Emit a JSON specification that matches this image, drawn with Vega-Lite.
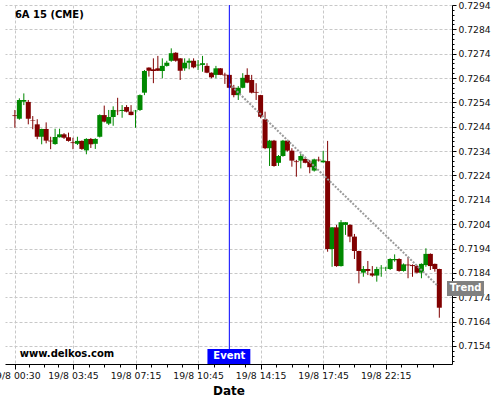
{
  "$schema": "https://vega.github.io/schema/vega-lite/v6.json",
  "width": 447,
  "height": 359,
  "autosize": {"type": "none"},
  "padding": {"left": 5, "top": 5, "right": 48, "bottom": 36},
  "background": "white",
  "config": {"view": {"stroke": null}, "font": "DejaVu Sans"},
  "datasets": {
    "candles": [
      {"i":1,"o":0.72487,"h":0.72509,"l":0.72436,"c":0.72484},
      {"i":2,"o":0.72473,"h":0.72557,"l":0.72469,"c":0.72550},
      {"i":3,"o":0.72543,"h":0.72577,"l":0.72529,"c":0.72550},
      {"i":4,"o":0.72542,"h":0.72550,"l":0.72450,"c":0.72473},
      {"i":5,"o":0.72466,"h":0.72484,"l":0.72430,"c":0.72464},
      {"i":6,"o":0.72450,"h":0.72471,"l":0.72389,"c":0.72399},
      {"i":7,"o":0.72399,"h":0.72432,"l":0.72368,"c":0.72431},
      {"i":8,"o":0.72431,"h":0.72458,"l":0.72372,"c":0.72383},
      {"i":9,"o":0.72383,"h":0.72399,"l":0.72348,"c":0.72380},
      {"i":10,"o":0.72369,"h":0.72432,"l":0.72366,"c":0.72398},
      {"i":11,"o":0.72397,"h":0.72432,"l":0.72396,"c":0.72409},
      {"i":12,"o":0.72409,"h":0.72414,"l":0.72390,"c":0.72395},
      {"i":13,"o":0.72397,"h":0.72416,"l":0.72379,"c":0.72382},
      {"i":14,"o":0.72376,"h":0.72395,"l":0.72348,"c":0.72373},
      {"i":15,"o":0.72370,"h":0.72399,"l":0.72365,"c":0.72382},
      {"i":16,"o":0.72382,"h":0.72384,"l":0.72345,"c":0.72349},
      {"i":17,"o":0.72343,"h":0.72393,"l":0.72327,"c":0.72390},
      {"i":18,"o":0.72390,"h":0.72394,"l":0.72353,"c":0.72368},
      {"i":19,"o":0.72370,"h":0.72393,"l":0.72349,"c":0.72390},
      {"i":20,"o":0.72399,"h":0.72491,"l":0.72396,"c":0.72488},
      {"i":21,"o":0.72488,"h":0.72527,"l":0.72458,"c":0.72461},
      {"i":22,"o":0.72453,"h":0.72509,"l":0.72447,"c":0.72480},
      {"i":23,"o":0.72480,"h":0.72524,"l":0.72444,"c":0.72509},
      {"i":24,"o":0.72506,"h":0.72559,"l":0.72488,"c":0.72504},
      {"i":25,"o":0.72505,"h":0.72529,"l":0.72477,"c":0.72509},
      {"i":26,"o":0.72521,"h":0.72529,"l":0.72499,"c":0.72502},
      {"i":27,"o":0.72502,"h":0.72529,"l":0.72487,"c":0.72488},
      {"i":28,"o":0.72504,"h":0.72509,"l":0.72436,"c":0.72506},
      {"i":29,"o":0.72509,"h":0.72573,"l":0.72505,"c":0.72570},
      {"i":30,"o":0.72580,"h":0.72673,"l":0.72570,"c":0.72669},
      {"i":31,"o":0.72683,"h":0.72684,"l":0.72646,"c":0.72670},
      {"i":32,"o":0.72676,"h":0.72721,"l":0.72619,"c":0.72669},
      {"i":33,"o":0.72680,"h":0.72731,"l":0.72669,"c":0.72670},
      {"i":34,"o":0.72669,"h":0.72721,"l":0.72639,"c":0.72690},
      {"i":35,"o":0.72690,"h":0.72711,"l":0.72687,"c":0.72703},
      {"i":36,"o":0.72711,"h":0.72762,"l":0.72707,"c":0.72742},
      {"i":37,"o":0.72744,"h":0.72746,"l":0.72707,"c":0.72711},
      {"i":38,"o":0.72721,"h":0.72722,"l":0.72632,"c":0.72670},
      {"i":39,"o":0.72680,"h":0.72721,"l":0.72670,"c":0.72703},
      {"i":40,"o":0.72703,"h":0.72721,"l":0.72676,"c":0.72711},
      {"i":41,"o":0.72711,"h":0.72721,"l":0.72680,"c":0.72684},
      {"i":42,"o":0.72692,"h":0.72714,"l":0.72673,"c":0.72695},
      {"i":43,"o":0.72694,"h":0.72731,"l":0.72666,"c":0.72701},
      {"i":44,"o":0.72690,"h":0.72701,"l":0.72660,"c":0.72662},
      {"i":45,"o":0.72662,"h":0.72663,"l":0.72639,"c":0.72643},
      {"i":46,"o":0.72653,"h":0.72690,"l":0.72639,"c":0.72680},
      {"i":47,"o":0.72680,"h":0.72681,"l":0.72652,"c":0.72653},
      {"i":48,"o":0.72654,"h":0.72662,"l":0.72616,"c":0.72651},
      {"i":49,"o":0.72653,"h":0.72654,"l":0.72598,"c":0.72600},
      {"i":50,"o":0.72600,"h":0.72612,"l":0.72561,"c":0.72570},
      {"i":51,"o":0.72570,"h":0.72607,"l":0.72550,"c":0.72600},
      {"i":52,"o":0.72600,"h":0.72660,"l":0.72598,"c":0.72641},
      {"i":53,"o":0.72653,"h":0.72680,"l":0.72619,"c":0.72621},
      {"i":54,"o":0.72632,"h":0.72653,"l":0.72577,"c":0.72580},
      {"i":55,"o":0.72583,"h":0.72619,"l":0.72550,"c":0.72580},
      {"i":56,"o":0.72570,"h":0.72571,"l":0.72475,"c":0.72481},
      {"i":57,"o":0.72471,"h":0.72502,"l":0.72348,"c":0.72352},
      {"i":58,"o":0.72352,"h":0.72386,"l":0.72279,"c":0.72383},
      {"i":59,"o":0.72383,"h":0.72386,"l":0.72276,"c":0.72279},
      {"i":60,"o":0.72292,"h":0.72324,"l":0.72279,"c":0.72320},
      {"i":61,"o":0.72320,"h":0.72386,"l":0.72317,"c":0.72383},
      {"i":62,"o":0.72383,"h":0.72386,"l":0.72338,"c":0.72342},
      {"i":63,"o":0.72342,"h":0.72352,"l":0.72276,"c":0.72301},
      {"i":64,"o":0.72298,"h":0.72304,"l":0.72235,"c":0.72295},
      {"i":65,"o":0.72301,"h":0.72328,"l":0.72269,"c":0.72320},
      {"i":66,"o":0.72308,"h":0.72317,"l":0.72290,"c":0.72292},
      {"i":67,"o":0.72297,"h":0.72304,"l":0.72249,"c":0.72274},
      {"i":68,"o":0.72260,"h":0.72309,"l":0.72256,"c":0.72306},
      {"i":69,"o":0.72305,"h":0.72317,"l":0.72297,"c":0.72302},
      {"i":70,"o":0.72294,"h":0.72341,"l":0.72293,"c":0.72301},
      {"i":71,"o":0.72299,"h":0.72382,"l":0.71927,"c":0.71938},
      {"i":72,"o":0.71938,"h":0.72028,"l":0.71865,"c":0.72027},
      {"i":73,"o":0.72027,"h":0.72037,"l":0.71865,"c":0.71868},
      {"i":74,"o":0.71868,"h":0.72057,"l":0.71866,"c":0.72048},
      {"i":75,"o":0.72037,"h":0.72049,"l":0.71996,"c":0.72048},
      {"i":76,"o":0.72037,"h":0.72040,"l":0.71966,"c":0.71989},
      {"i":77,"o":0.71989,"h":0.72000,"l":0.71897,"c":0.71930},
      {"i":78,"o":0.71930,"h":0.71931,"l":0.71797,"c":0.71848},
      {"i":79,"o":0.71841,"h":0.71868,"l":0.71824,"c":0.71856},
      {"i":80,"o":0.71856,"h":0.71889,"l":0.71831,"c":0.71848},
      {"i":81,"o":0.71838,"h":0.71868,"l":0.71824,"c":0.71829},
      {"i":82,"o":0.71829,"h":0.71865,"l":0.71804,"c":0.71856},
      {"i":83,"o":0.71859,"h":0.71872,"l":0.71824,"c":0.71861},
      {"i":84,"o":0.71859,"h":0.71865,"l":0.71848,"c":0.71861},
      {"i":85,"o":0.71856,"h":0.71900,"l":0.71852,"c":0.71897},
      {"i":86,"o":0.71892,"h":0.71916,"l":0.71886,"c":0.71897},
      {"i":87,"o":0.71897,"h":0.71900,"l":0.71845,"c":0.71848},
      {"i":88,"o":0.71848,"h":0.71879,"l":0.71845,"c":0.71875},
      {"i":89,"o":0.71874,"h":0.71906,"l":0.71818,"c":0.71871},
      {"i":90,"o":0.71872,"h":0.71875,"l":0.71824,"c":0.71868},
      {"i":91,"o":0.71868,"h":0.71872,"l":0.71838,"c":0.71841},
      {"i":92,"o":0.71841,"h":0.71879,"l":0.71818,"c":0.71877},
      {"i":93,"o":0.71872,"h":0.71941,"l":0.71865,"c":0.71918},
      {"i":94,"o":0.71918,"h":0.71920,"l":0.71852,"c":0.71868},
      {"i":95,"o":0.71877,"h":0.71878,"l":0.71845,"c":0.71856},
      {"i":96,"o":0.71856,"h":0.71857,"l":0.71656,"c":0.71697}
    ],
    "trend": [
      {"i": 49, "v": 0.72616},
      {"i": 95.7, "v": 0.71786}
    ],
    "one": [{}]
  },
  "layer": [
    {
      "data": {"name": "candles"},
      "mark": {"type": "rule", "strokeWidth": 1},
      "encoding": {
        "x": {
          "field": "i", "type": "quantitative",
          "scale": {"domain": [-0.094, 97.72], "nice": false, "zero": false},
          "axis": {
            "title": "Date",
            "titleFont": "DejaVu Sans", "titleFontSize": 12, "titleFontWeight": "bold", "titleColor": "#000000", "titlePadding": 5,
            "values": [1, 4.25, 7.5, 10.75, 14, 17.5, 21, 24.5, 28, 31.5, 35, 38.5, 42, 45.5, 49, 52.5, 56, 59.5, 63, 66.5, 70, 73.5, 77, 80.5, 84, 87.5, 91, 94.5],
            "tickCount": 1000,
            "labelExpr": "datum.value==1?'19/8 00:30':datum.value==14?'19/8 03:45':datum.value==28?'19/8 07:15':datum.value==42?'19/8 10:45':datum.value==56?'19/8 14:15':datum.value==70?'19/8 17:45':datum.value==84?'19/8 22:15':''",
            "labelFlush": false, "labelOverlap": false, "labelBound": false,
            "labelFont": "DejaVu Sans", "labelFontSize": 9.3, "labelColor": "#111111", "labelPadding": 2,
            "domainColor": "#000000", "domainWidth": 1,
            "tickColor": "#000000",
            "tickSize": {"condition": {"test": "indexof([1,14,28,42,56,70,84], datum.value) >= 0", "value": 5}, "value": 3},
            "grid": true, "gridColor": "#c8c8c8", "gridDash": [3, 2],
            "gridOpacity": {"condition": {"test": "indexof([1,14,28,42,56,70,84], datum.value) >= 0", "value": 1}, "value": 0}
          }
        },
        "y": {
          "field": "l", "type": "quantitative",
          "scale": {"domain": [0.714659, 0.7294], "nice": false, "zero": false},
          "axis": {
            "orient": "right", "title": null,
            "values": [0.7148,0.715,0.7152,0.7154,0.7156,0.7158,0.716,0.7162,0.7164,0.7166,0.7168,0.717,0.7172,0.7174,0.7176,0.7178,0.718,0.7182,0.7184,0.7186,0.7188,0.719,0.7192,0.7194,0.7196,0.7198,0.72,0.7202,0.7204,0.7206,0.7208,0.721,0.7212,0.7214,0.7216,0.7218,0.722,0.7222,0.7224,0.7226,0.7228,0.723,0.7232,0.7234,0.7236,0.7238,0.724,0.7242,0.7244,0.7246,0.7248,0.725,0.7252,0.7254,0.7256,0.7258,0.726,0.7262,0.7264,0.7266,0.7268,0.727,0.7272,0.7274,0.7276,0.7278,0.728,0.7282,0.7284,0.7286,0.7288,0.729,0.7292,0.7294],
            "tickCount": 1000,
            "labelExpr": "abs(datum.value*10000 - 4 - round((datum.value*10000 - 4)/10)*10) < 0.01 ? format(datum.value, '.4f') : ''",
            "labelOverlap": false, "labelFlush": false, "labelBound": false,
            "labelFont": "DejaVu Sans", "labelFontSize": 9.2, "labelColor": "#111111", "labelPadding": 2,
            "domainColor": "#000000", "domainWidth": 1,
            "tickColor": "#000000",
            "tickSize": {"condition": {"test": "abs(datum.value*10000 - 4 - round((datum.value*10000 - 4)/10)*10) < 0.01", "value": 4}, "value": 2},
            "grid": true, "gridColor": "#c8c8c8", "gridDash": [3, 2],
            "gridOpacity": {"condition": {"test": "abs(datum.value*10000 - 4 - round((datum.value*10000 - 4)/10)*10) < 0.01", "value": 1}, "value": 0}
          }
        },
        "y2": {"field": "h"},
        "color": {"condition": {"test": "datum.c >= datum.o", "value": "#008800"}, "value": "#800000"}
      }
    },
    {
      "data": {"name": "candles"},
      "mark": {"type": "bar", "width": 5},
      "encoding": {
        "x": {"field": "i", "type": "quantitative", "scale": {"domain": [-0.094, 97.72], "nice": false, "zero": false}},
        "y": {"field": "o", "type": "quantitative", "scale": {"domain": [0.714659, 0.7294], "nice": false, "zero": false}},
        "y2": {"field": "c"},
        "color": {"condition": {"test": "datum.c >= datum.o", "value": "#008800"}, "value": "#800000"}
      }
    },
    {
      "data": {"name": "trend"},
      "mark": {"type": "line", "color": "#9a9a9a", "strokeWidth": 2, "strokeDash": [2, 1.5]},
      "encoding": {
        "x": {"field": "i", "type": "quantitative", "scale": {"domain": [-0.094, 97.72], "nice": false, "zero": false}},
        "y": {"field": "v", "type": "quantitative", "scale": {"domain": [0.714659, 0.7294], "nice": false, "zero": false}}
      }
    },
    {
      "data": {"name": "one"},
      "mark": {"type": "rule", "color": "#0000ff", "strokeWidth": 1},
      "encoding": {
        "x": {"datum": 49, "type": "quantitative", "scale": {"domain": [-0.094, 97.72], "nice": false, "zero": false}}
      }
    },
    {
      "data": {"name": "one"},
      "mark": {"type": "rect", "color": "#0000ff"},
      "encoding": {
        "x": {"datum": 44.1, "type": "quantitative", "scale": {"domain": [-0.094, 97.72], "nice": false, "zero": false}},
        "x2": {"datum": 53.7},
        "y": {"datum": 0.71528, "type": "quantitative", "scale": {"domain": [0.714659, 0.7294], "nice": false, "zero": false}},
        "y2": {"datum": 0.714659}
      }
    },
    {
      "data": {"name": "one"},
      "mark": {"type": "text", "text": "Event", "font": "DejaVu Sans", "fontSize": 10, "fontWeight": "bold", "color": "white", "align": "center", "baseline": "middle"},
      "encoding": {
        "x": {"datum": 49, "type": "quantitative", "scale": {"domain": [-0.094, 97.72], "nice": false, "zero": false}},
        "y": {"datum": 0.71497, "type": "quantitative", "scale": {"domain": [0.714659, 0.7294], "nice": false, "zero": false}}
      }
    },
    {
      "data": {"name": "one"},
      "mark": {"type": "rect", "color": "#808080"},
      "encoding": {
        "x": {"datum": 97.72, "type": "quantitative", "scale": {"domain": [-0.094, 97.72], "nice": false, "zero": false}},
        "x2": {"datum": 106.0},
        "y": {"datum": 0.71807, "type": "quantitative", "scale": {"domain": [0.714659, 0.7294], "nice": false, "zero": false}},
        "y2": {"datum": 0.71745}
      }
    },
    {
      "data": {"name": "one"},
      "mark": {"type": "text", "text": "Trend", "font": "DejaVu Sans", "fontSize": 10, "fontWeight": "bold", "color": "white", "align": "center", "baseline": "middle"},
      "encoding": {
        "x": {"datum": 101.9, "type": "quantitative", "scale": {"domain": [-0.094, 97.72], "nice": false, "zero": false}},
        "y": {"datum": 0.71776, "type": "quantitative", "scale": {"domain": [0.714659, 0.7294], "nice": false, "zero": false}}
      }
    },
    {
      "data": {"name": "one"},
      "mark": {"type": "text", "text": "6A 15 (CME)", "font": "DejaVu Sans", "fontSize": 10, "fontWeight": "bold", "color": "#000000", "align": "left", "baseline": "middle"},
      "encoding": {
        "x": {"datum": 1, "type": "quantitative", "scale": {"domain": [-0.094, 97.72], "nice": false, "zero": false}},
        "y": {"datum": 0.72899, "type": "quantitative", "scale": {"domain": [0.714659, 0.7294], "nice": false, "zero": false}}
      }
    },
    {
      "data": {"name": "one"},
      "mark": {"type": "text", "text": "www.delkos.com", "font": "DejaVu Sans", "fontSize": 10, "fontWeight": "bold", "color": "#000000", "align": "left", "baseline": "middle"},
      "encoding": {
        "x": {"datum": 2.09, "type": "quantitative", "scale": {"domain": [-0.094, 97.72], "nice": false, "zero": false}},
        "y": {"datum": 0.71507, "type": "quantitative", "scale": {"domain": [0.714659, 0.7294], "nice": false, "zero": false}}
      }
    }
  ]
}
